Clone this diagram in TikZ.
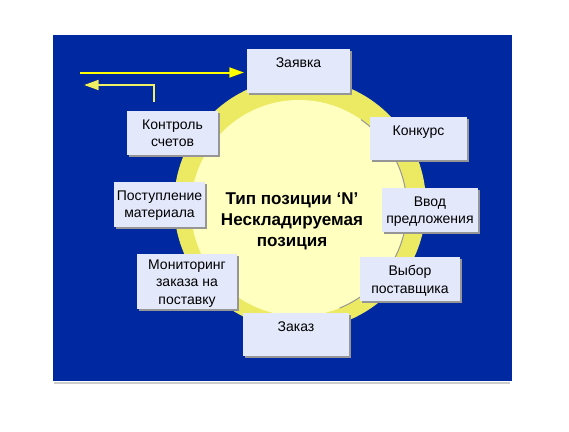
\documentclass[tikz,border=0pt]{standalone}
\usepackage{fontspec}
\setmainfont{Liberation Sans}
\usepackage {tikz}
\usetikzlibrary {positioning}
\usetikzlibrary{shadows}
\usetikzlibrary{arrows.meta}
\definecolor{bgblue}{RGB}{0,40,160}
\definecolor{ringyellow}{RGB}{236,234,98}
\definecolor{coreyellow}{RGB}{255,255,192}
\definecolor{boxfill}{RGB}{227,232,251}
\definecolor{boxshadow}{RGB}{150,150,150}
\definecolor{arrowyellow}{RGB}{255,255,0}
\definecolor{arrowpale}{RGB}{240,240,100}
\tikzset{
    boxsize/.style 2 args = {minimum width=#1*0.75pt, minimum height=#2*0.75pt},
    stagebox/.style = {rectangle, fill=boxfill, inner sep=0pt,
        drop shadow={shadow xshift=1.5pt, shadow yshift=-1.5pt, fill=boxshadow, opacity=1}},
    stagetext/.style = {anchor=north, yshift=-6.5pt, inner sep=0pt, align=center,
        font=\fontsize{10.5}{13}\selectfont},
    flowline/.style = {line width=1.5pt, -{Triangle[length=11pt,width=7.5pt]}},
    flowshadow/.style = {flowline, black, shift={(1,1)}}}

\begin{document}
\begin{tikzpicture}[x=0.75pt, y=-0.75pt]
    \useasboundingbox (0,0) rectangle (569,432);
    % background
    \fill[bgblue] (53,35) rectangle (512,381);
    \draw[gray!40, line width=1.5pt] (54,382.5) -- (510,382.5);
    % the cycle
    \fill[ringyellow] (300,204) circle [radius=126];
    \fill[coreyellow] (299,208) circle [radius=108];
    \draw[boxshadow, line width=0.75pt] (299,208) ++(-55:108) arc [start angle=-55, end angle=68, radius=108];
    % stages round the cycle
    \node[stagebox, boxsize={103}{44}, label={[stagetext]north:Заявка}] (zayavka) at (298.5,71) {};
    \node[stagebox, boxsize={97}{43}, label={[stagetext]north:Конкурс}] (konkurs) at (418.5,138.5) {};
    \node[stagebox, boxsize={96}{44}, label={[stagetext]north:Ввод\\предложения}] (vvod) at (430,210) {};
    \node[stagebox, boxsize={100}{44}, label={[stagetext]north:Выбор\\поставщика}] (vybor) at (410,279) {};
    \node[stagebox, boxsize={106}{43}, label={[stagetext]north:Заказ}] (zakaz) at (296,334.5) {};
    \node[stagebox, boxsize={100}{55}, label={[stagetext, yshift=2pt]north:Мониторинг\\заказа на\\поставку}] (monitoring) at (187,281.5) {};
    \node[stagebox, boxsize={91}{45}, label={[stagetext]north:Поступление\\материала}] (postuplenie) at (159.5,204.5) {};
    \node[stagebox, boxsize={91}{44}, label={[stagetext]north:Контроль\\счетов}] (kontrol) at (172.5,133) {};
    % centre
    \node[align=center, font=\bfseries\fontsize{12.8}{15.75}\selectfont] (kind) at (292,221)
        {Тип позиции ‘N’\\Нескладируемая\\позиция};
    % in and out arrows
    \coordinate (inA) at (80,72.5);
    \coordinate (inB) at (244,72.5);
    \coordinate (outA) at (154,102);
    \coordinate (outB) at (84,85);
    \draw[flowshadow] (inA) -- (inB);
    \draw[flowline, arrowyellow] (inA) -- (inB);
    \draw[flowshadow] (outA) |- (outB);
    \draw[flowline, arrowpale] (outA) |- (outB);
\end{tikzpicture}
\end{document}
